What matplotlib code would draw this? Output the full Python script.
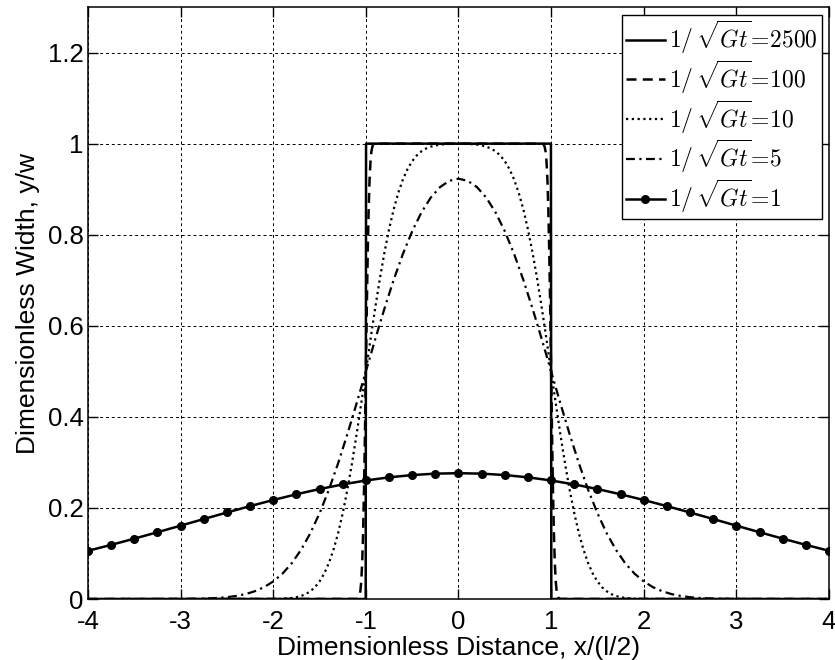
import matplotlib
matplotlib.use("Agg")
import matplotlib.pyplot as plt

plt.rcParams['font.family'] = ['Liberation Sans', 'DejaVu Sans']
plt.rcParams['mathtext.fontset'] = 'cm'

# ---- data ----
labels = [r'$1/\,\sqrt{Gt}\!=\!2500$', r'$1/\,\sqrt{Gt}\!=\!100$',
          r'$1/\,\sqrt{Gt}\!=\!10$', r'$1/\,\sqrt{Gt}\!=\!5$', r'$1/\,\sqrt{Gt}\!=\!1$']

x_2500 = [-4.0, -1.002, -1.0, -0.998, 0.998, 1.0, 1.002, 4.0]
y_2500 = [0.0, 0.0, 0.5, 1.0, 1.0, 0.5, 0.0, 0.0]

x_100 = [-4.0, -1.10, -1.09, -1.08, -1.07, -1.06, -1.05, -1.04, -1.03, -1.02, -1.01,
         -1.00, -0.99, -0.98, -0.97, -0.96, -0.95, -0.94, -0.93, -0.92, -0.91, -0.90,
         0.0,
         0.90, 0.91, 0.92, 0.93, 0.94, 0.95, 0.96, 0.97, 0.98, 0.99, 1.00,
         1.01, 1.02, 1.03, 1.04, 1.05, 1.06, 1.07, 1.08, 1.09, 1.10, 4.0]
y_100 = [0.0, 0.0002, 0.0007, 0.0023, 0.0067, 0.0170, 0.0386, 0.0787, 0.1444, 0.2398, 0.3618,
         0.5000, 0.6382, 0.7603, 0.8556, 0.9214, 0.9615, 0.9831, 0.9933, 0.9977, 0.9993, 0.9998,
         1.0,
         0.9998, 0.9993, 0.9977, 0.9933, 0.9831, 0.9615, 0.9214, 0.8556, 0.7603, 0.6382, 0.5000,
         0.3618, 0.2398, 0.1444, 0.0787, 0.0386, 0.0170, 0.0067, 0.0023, 0.0007, 0.0002, 0.0]

x_10 = [-4.0, -2.0, -1.95, -1.9, -1.85, -1.8, -1.75, -1.7, -1.65, -1.6, -1.55, -1.5,
        -1.45, -1.4, -1.35, -1.3, -1.25, -1.2, -1.15, -1.1, -1.05, -1.0,
        -0.95, -0.9, -0.85, -0.8, -0.75, -0.7, -0.65, -0.6, -0.55, -0.5,
        -0.45, -0.4, -0.35, -0.3, -0.25, -0.2, -0.15, -0.1, -0.05, 0.0,
        0.05, 0.1, 0.15, 0.2, 0.25, 0.3, 0.35, 0.4, 0.45, 0.5,
        0.55, 0.6, 0.65, 0.7, 0.75, 0.8, 0.85, 0.9, 0.95, 1.0,
        1.05, 1.1, 1.15, 1.2, 1.25, 1.3, 1.35, 1.4, 1.45, 1.5,
        1.55, 1.6, 1.65, 1.7, 1.75, 1.8, 1.85, 1.9, 1.95, 2.0, 4.0]
y_10 = [0.0, 0.0002, 0.0004, 0.0007, 0.0013, 0.0023, 0.0040, 0.0067, 0.0108, 0.0170, 0.0259, 0.0386,
        0.0558, 0.0787, 0.1080, 0.1444, 0.1884, 0.2398, 0.2979, 0.3618, 0.4298, 0.5000,
        0.5702, 0.6382, 0.7021, 0.7603, 0.8116, 0.8556, 0.8920, 0.9214, 0.9442, 0.9615,
        0.9741, 0.9831, 0.9892, 0.9933, 0.9960, 0.9977, 0.9987, 0.9992, 0.9995, 0.9996,
        0.9995, 0.9992, 0.9987, 0.9977, 0.9960, 0.9933, 0.9892, 0.9831, 0.9741, 0.9615,
        0.9442, 0.9214, 0.8920, 0.8556, 0.8116, 0.7603, 0.7021, 0.6382, 0.5702, 0.5000,
        0.4298, 0.3618, 0.2979, 0.2398, 0.1884, 0.1444, 0.1080, 0.0787, 0.0558, 0.0386,
        0.0259, 0.0170, 0.0108, 0.0067, 0.0040, 0.0023, 0.0013, 0.0007, 0.0004, 0.0002, 0.0]

x_5 = [-4.0, -3.0, -2.9, -2.8, -2.7, -2.6, -2.5, -2.4, -2.3, -2.2, -2.1, -2.0,
       -1.9, -1.8, -1.7, -1.6, -1.5, -1.4, -1.3, -1.2, -1.1, -1.0,
       -0.9, -0.8, -0.7, -0.6, -0.5, -0.4, -0.3, -0.2, -0.1, 0.0,
       0.1, 0.2, 0.3, 0.4, 0.5, 0.6, 0.7, 0.8, 0.9, 1.0,
       1.1, 1.2, 1.3, 1.4, 1.5, 1.6, 1.7, 1.8, 1.9, 2.0,
       2.1, 2.2, 2.3, 2.4, 2.5, 2.6, 2.7, 2.8, 2.9, 3.0, 4.0]
y_5 = [0.0, 0.0002, 0.0004, 0.0007, 0.0013, 0.0023, 0.0040, 0.0067, 0.0108, 0.0170, 0.0259, 0.0386,
       0.0558, 0.0787, 0.1080, 0.1444, 0.1884, 0.2397, 0.2979, 0.3618, 0.4297, 0.4998,
       0.5698, 0.6374, 0.7007, 0.7579, 0.8076, 0.8489, 0.8813, 0.9044, 0.9183, 0.9229,
       0.9183, 0.9044, 0.8813, 0.8489, 0.8076, 0.7579, 0.7007, 0.6374, 0.5698, 0.4998,
       0.4297, 0.3618, 0.2979, 0.2397, 0.1884, 0.1444, 0.1080, 0.0787, 0.0558, 0.0386,
       0.0259, 0.0170, 0.0108, 0.0067, 0.0040, 0.0023, 0.0013, 0.0007, 0.0004, 0.0002, 0.0]

x_1 = [-4.0, -3.75, -3.5, -3.25, -3.0, -2.75, -2.5, -2.25, -2.0, -1.75, -1.5, -1.25, -1.0,
       -0.75, -0.5, -0.25, 0.0, 0.25, 0.5, 0.75, 1.0, 1.25, 1.5, 1.75, 2.0,
       2.25, 2.5, 2.75, 3.0, 3.25, 3.5, 3.75, 4.0]
y_1 = [0.1059, 0.1189, 0.1326, 0.1467, 0.1611, 0.1756, 0.1900, 0.2040, 0.2174, 0.2300, 0.2415, 0.2516, 0.2603,
       0.2672, 0.2722, 0.2753, 0.2763, 0.2753, 0.2722, 0.2672, 0.2603, 0.2516, 0.2415, 0.2300, 0.2174,
       0.2040, 0.1900, 0.1756, 0.1611, 0.1467, 0.1326, 0.1189, 0.1059]

x_ticks = [-4, -3, -2, -1, 0, 1, 2, 3, 4]
y_ticks = [0, 0.2, 0.4, 0.6, 0.8, 1.0, 1.2]
y_tick_labels = ['0', '0.2', '0.4', '0.6', '0.8', '1', '1.2']

# ---- figure ----
fig = plt.figure(figsize=(8.35, 6.6), dpi=100)
ax = fig.add_axes([0.1054, 0.0924, 0.8874, 0.8970])

ax.plot(x_2500, y_2500, color='black', lw=1.8, linestyle='-', label=labels[0])
ax.plot(x_100, y_100, color='black', lw=1.8, linestyle=(0, (4, 2.5)), label=labels[1])
ax.plot(x_10, y_10, color='black', lw=1.6, linestyle=(0, (1, 1.6)), label=labels[2])
ax.plot(x_5, y_5, color='black', lw=1.6, linestyle=(0, (4, 2, 1, 2)), label=labels[3])
ax.plot(x_1, y_1, color='black', lw=1.8, linestyle='-', marker='o', ms=5.5,
        markerfacecolor='black', markeredgecolor='black', label=labels[4])

ax.set_xlim(-4, 4)
ax.set_ylim(0, 1.3)
ax.set_xticks(x_ticks)
ax.set_xticklabels([str(t) for t in x_ticks])
ax.set_yticks(y_ticks)
ax.set_yticklabels(y_tick_labels)

ax.grid(True, color='black', linestyle=(0, (3, 3)), linewidth=0.7)
ax.tick_params(direction='in', top=True, right=True, length=7, width=1,
               labelsize=18.5)
ax.tick_params(axis='x', pad=8)
ax.tick_params(axis='y', pad=3)
for s in ax.spines.values():
    s.set_linewidth(1.1)

ax.set_xlabel('Dimensionless Distance, x/(l/2)', fontsize=19, labelpad=1)
ax.set_ylabel('Dimensionless Width, y/w', fontsize=19, labelpad=6)

leg = ax.legend(loc='upper right', bbox_to_anchor=(0.990, 0.9865), borderaxespad=0,
                fontsize=17, frameon=True, fancybox=False,
                framealpha=1, edgecolor='black', handlelength=1.65,
                handletextpad=0.2, labelspacing=0.1,
                borderpad=0.15, markerscale=1.0)
leg.get_frame().set_linewidth(1.0)

fig.savefig('out.png', dpi=100)
